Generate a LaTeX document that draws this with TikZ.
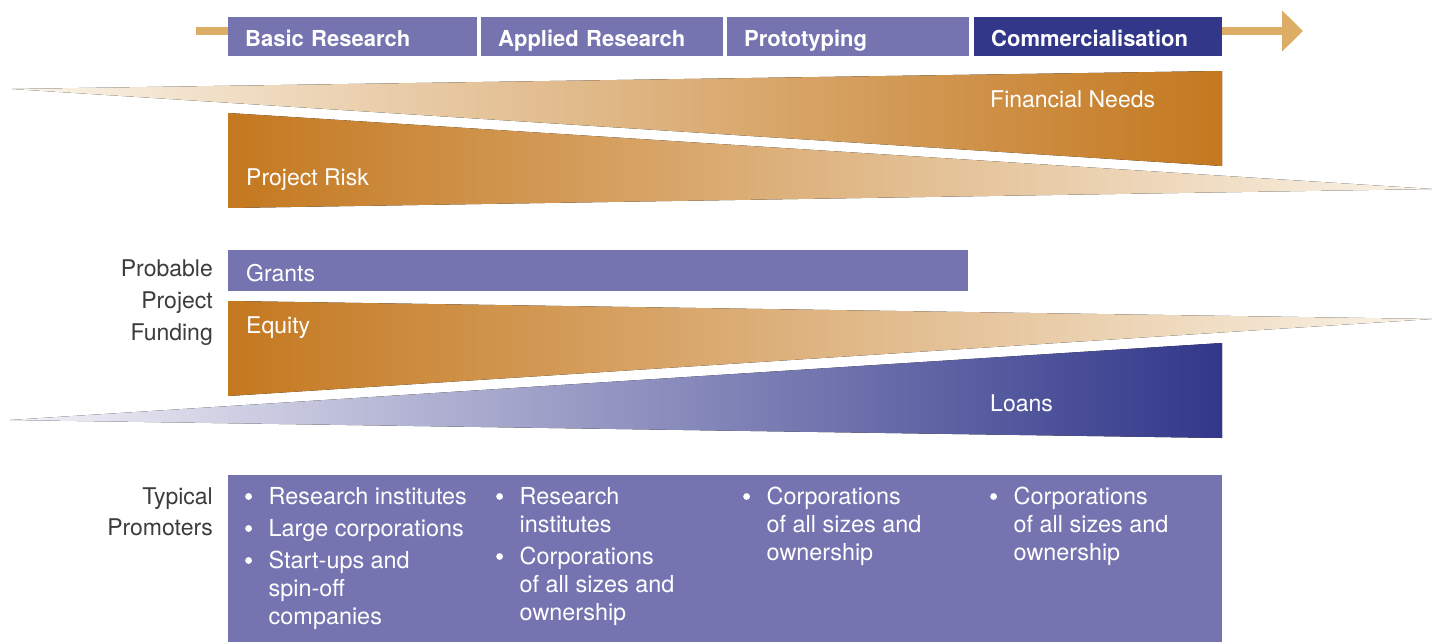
\documentclass[tikz,border=0pt]{standalone}
\usepackage{fontspec}
\setmainfont{TeX Gyre Heros}
\usepackage{tikz}
\usetikzlibrary{arrows.meta}
\definecolor{lilac}{HTML}{7674B0}
\definecolor{navy}{HTML}{32378A}
\definecolor{rust}{HTML}{C4781F}
\definecolor{cream}{HTML}{FAF4E9}
\definecolor{sand}{HTML}{DDAD66}
\definecolor{mist}{HTML}{F3F2F8}
\definecolor{ink}{HTML}{3C3C3C}
\tikzset{
  phase/.style={anchor=north west,fill=lilac,text=white,align=left,
    font=\bfseries\fontsize{22}{26}\selectfont,minimum height=39pt,
    inner xsep=17pt,inner ysep=0pt,text height=19pt,text depth=0pt},
  tag/.style={anchor=base west,text=white,inner sep=0pt,
    font=\fontsize{23}{28}\selectfont},
  side/.style={anchor=north east,text=ink,align=right,inner sep=0pt},
  plist/.style={anchor=base west,text=white,inner sep=0pt,
    font=\fontsize{23.4}{28}\selectfont},
  flow/.style={draw=sand,line width=8pt}
}
\newcommand{\pb}{\tikz[baseline=0pt]\fill[white] (8pt,7.5pt) circle (3.4pt);}
\begin{document}
\begin{tikzpicture}[x=1pt,y=-1pt]
\useasboundingbox (0,0) rectangle (1437,642);
\node[phase,text width=215pt] (basic) at (228,17) {Basic Research};
\node[phase,text width=208pt] (applied) at (481,17) {Applied Research};
\node[phase,text width=208pt] (proto) at (727,17) {Prototyping};
\node[phase,text width=214pt,fill=navy] (comm) at (974,17) {Commercialisation};
\coordinate (tail) at (196,31);
\coordinate (head) at (1303,31);
\draw[flow] (tail) -- (tail -| basic.west);
\draw[flow,-{Triangle[length=21pt,width=40pt]}] (comm.east |- head) -- (head);
\fill[left color=cream,right color=rust] (12,89) -- (1222,71) -- (1222,166) -- cycle;
\node[tag] (needs) at (990,107) {Financial Needs};
\fill[left color=rust,right color=cream] (228,113) -- (1432,189) -- (228,208) -- cycle;
\node[tag] (risk) at (246,185) {Project Risk};
\fill[lilac] (228,250) rectangle (968,291);
\node[tag] (grants) at (246,281) {Grants};
\fill[left color=rust,right color=cream] (228,301) -- (1432,319) -- (228,396) -- cycle;
\node[tag] (equity) at (246,333) {Equity};
\fill[left color=mist,right color=navy] (10,420) -- (1222,343) -- (1222,438) -- cycle;
\node[tag] (loans) at (990,411) {Loans};
\node[side,font=\fontsize{23}{32}\selectfont] (funding) at (213,260) {Probable\\Project\\Funding};
\fill[lilac] (228,475) rectangle (1222,642);
\node[side,font=\fontsize{23}{31}\selectfont] (promoters) at (213,488) {Typical\\Promoters};
\node[plist] (colA) at (245,504) {\begin{tabular}[t]{@{}p{23.5pt}@{}l@{}}
  \pb & Research institutes\\[4pt]
  \pb & Large corporations\\[4pt]
  \pb & Start-ups and\\ & spin-off\\ & companies\end{tabular}};
\node[plist] (colB) at (496,504) {\begin{tabular}[t]{@{}p{23.5pt}@{}l@{}}
  \pb & Research\\ & institutes\\[4pt]
  \pb & Corporations\\ & of all sizes and\\ & ownership\end{tabular}};
\node[plist] (colC) at (743,504) {\begin{tabular}[t]{@{}p{23.5pt}@{}l@{}}
  \pb & Corporations\\ & of all sizes and\\ & ownership\end{tabular}};
\node[plist] (colD) at (990,504) {\begin{tabular}[t]{@{}p{23.5pt}@{}l@{}}
  \pb & Corporations\\ & of all sizes and\\ & ownership\end{tabular}};
\end{tikzpicture}
\end{document}
